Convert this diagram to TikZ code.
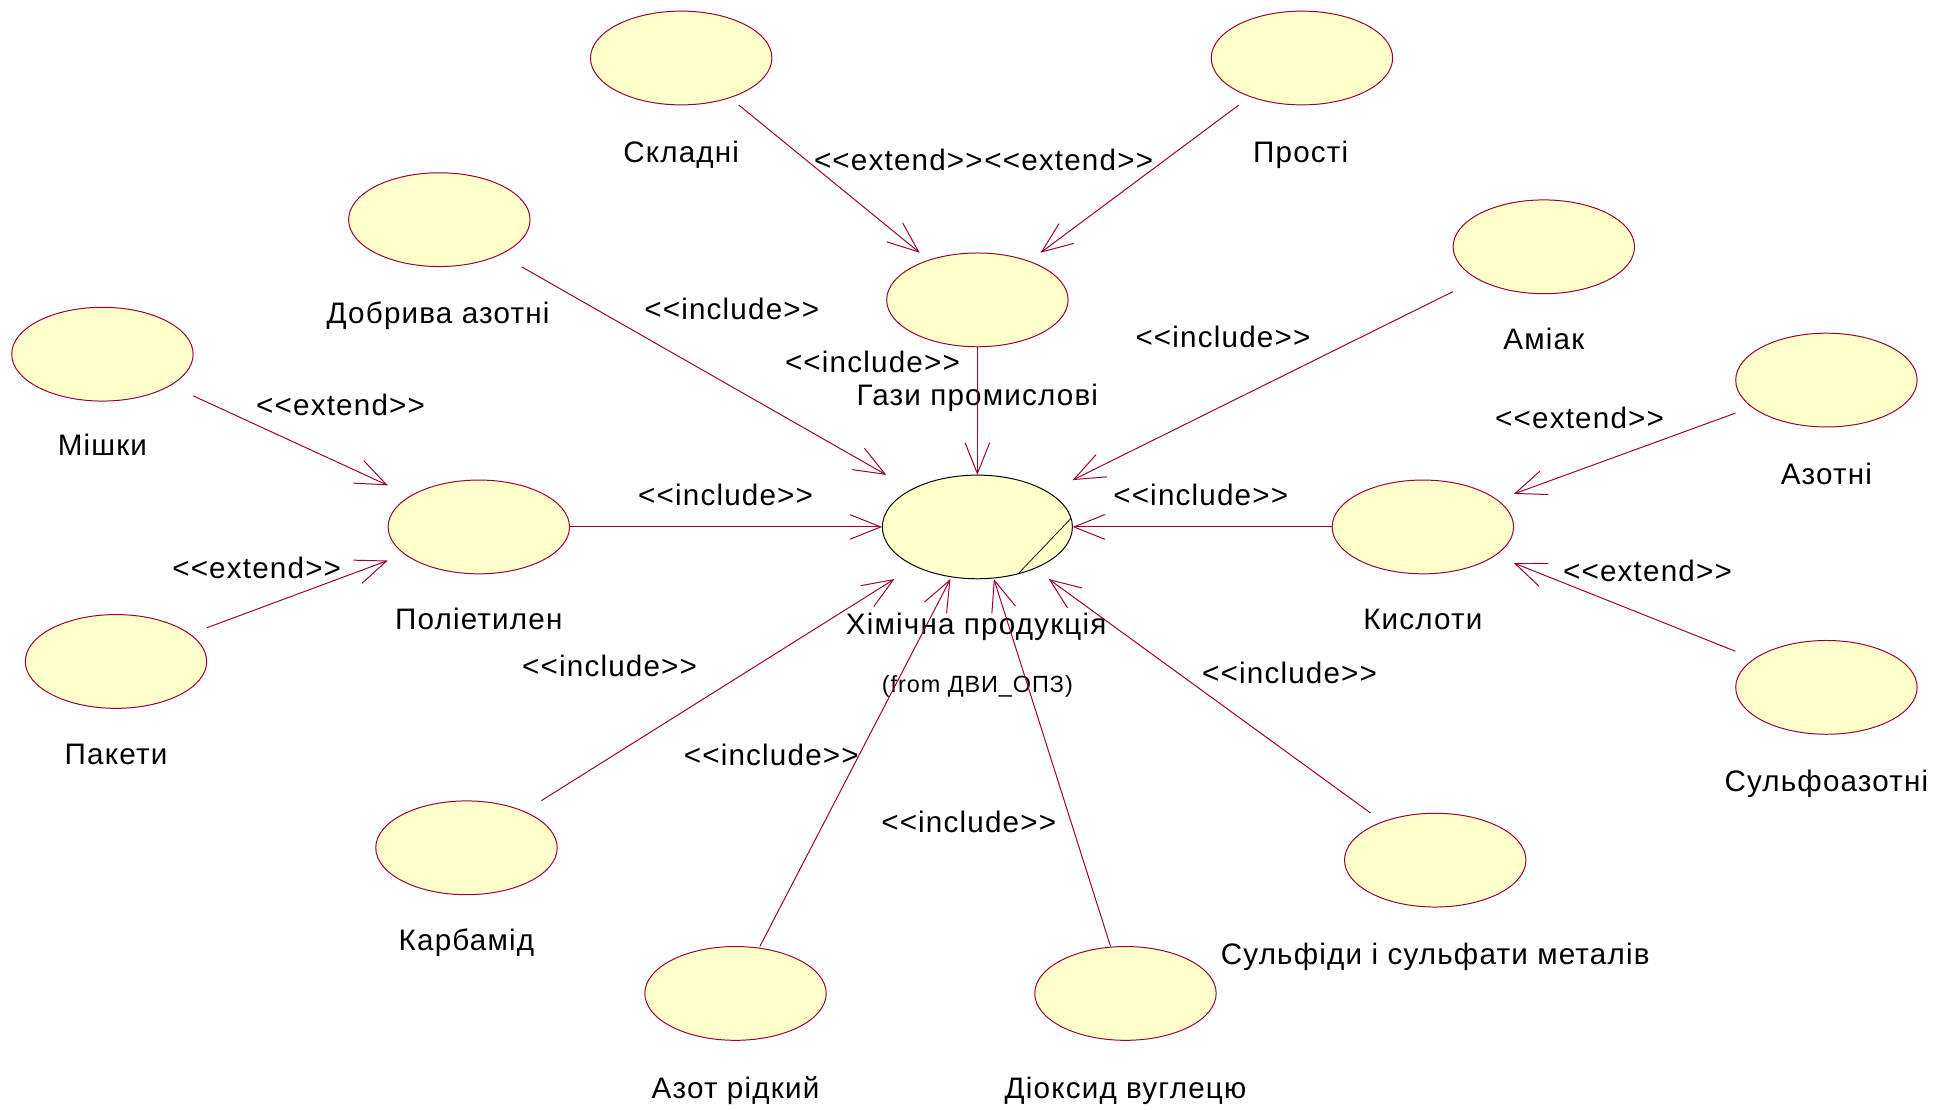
\documentclass[tikz,border=0pt]{standalone}
\usepackage{fontspec}
\newfontfamily\lblfont[LetterSpace=4,Ligatures=TeXOff]{Liberation Sans}
\usetikzlibrary{arrows.meta}

\definecolor{ucline}{HTML}{990033}
\definecolor{ucfill}{HTML}{FFFFCC}

\tikzset{
  uc/.style={rectangle, inner sep=0pt, minimum width=147pt, minimum height=76pt},
  ucmain/.style={rectangle, inner sep=0pt, minimum width=154pt, minimum height=84pt},
  lbl/.style={inner sep=0pt, text height=17pt, text depth=0pt,
              font=\lblfont\fontsize{24pt}{28pt}\selectfont},
  small/.style={inner sep=0pt, text height=13.5pt, text depth=0pt,
              font=\lblfont\fontsize{19pt}{22pt}\selectfont},
  rel/.style={draw=ucline, line width=0.8pt,
              -{Straight Barb[length=25pt,width=20pt]}},
  ucshape/.style={draw=ucline, fill=ucfill, line width=0.8pt},
}

\begin{document}
\begin{tikzpicture}[x=1pt, y=-1pt]
\useasboundingbox (0,0) rectangle (1568,899);

% use case placeholders (connectors clip to these boxes)
\node[uc] (skl) at (552,47) {};
\node[uc] (pro) at (1055,47) {};
\node[uc] (gas) at (792,243) {};
\node[uc] (dob) at (356,178) {};
\node[uc] (ami) at (1251,200) {};
\node[uc] (mis) at (83,287) {};
\node[uc] (pol) at (388,427) {};
\node[uc] (pak) at (94,536) {};
\node[ucmain] (chem) at (792,427) {};
\node[uc] (kis) at (1153,427) {};
\node[uc] (azn) at (1480,308) {};
\node[uc] (sul) at (1480,557) {};
\node[uc] (kar) at (378,687) {};
\node[uc] (sfm) at (1163,697) {};
\node[uc] (azr) at (596,805) {};
\node[uc] (dio) at (912,805) {};

% use case ellipses
\foreach \n in {skl,pro,gas,dob,ami,mis,pol,pak,kis,azn,sul,kar,sfm,azr,dio}
  \draw[ucshape] (\n.center) ellipse [x radius=73.5pt, y radius=38pt];
\draw[black, fill=ucfill, line width=0.8pt] (chem.center) ellipse [x radius=77pt, y radius=42pt];
\draw[black, line width=0.6pt] ([shift={(75.9,-7)}]chem.center) -- ([shift={(33,38)}]chem.center);

% use case names
\node[lbl] (tskl) at (552,123) {Складні};
\node[lbl] (tpro) at (1054,123) {Прості};
\node[lbl] (tgas) at (792,320) {Гази промислові};
\node[lbl] (tdob) at (355,254) {Добрива азотні};
\node[lbl] (tami) at (1251,275) {Аміак};
\node[lbl] (tmis) at (83,361) {Мішки};
\node[lbl] (tpol) at (388,502) {Поліетилен};
\node[lbl] (tpak) at (94,611) {Пакети};
\node[lbl] (tchem) at (791,506) {Хімічна продукція};
\node[small] (tfrom) at (792,554) {(from ДВИ\_ОПЗ)};
\node[lbl] (tkis) at (1153,502) {Кислоти};
\node[lbl] (tazn) at (1480,384) {Азотні};
\node[lbl] (tsul) at (1480,633) {Сульфоазотні};
\node[lbl] (tkar) at (378,762) {Карбамід};
\node[lbl] (tsfm) at (1163,773) {Сульфіди і сульфати металів};
\node[lbl] (tazr) at (596,882) {Азот рідкий};
\node[lbl] (tdio) at (912,882) {Діоксид вуглецю};

% relationships
\draw[rel] (skl) -- (gas);
\draw[rel] (pro) -- (gas);
\draw[rel] (gas) -- (chem);
\draw[rel] (dob) -- (chem);
\draw[rel] (ami) -- (chem);
\draw[rel] (mis) -- (pol);
\draw[rel] (pak) -- (pol);
\draw[rel] (pol) -- (chem);
\draw[rel] (kis) -- (chem);
\draw[rel] (azn) -- (kis);
\draw[rel] (sul) -- (kis);
\draw[rel] (kar) -- (chem);
\draw[rel] (azr) -- (chem);
\draw[rel] (dio) -- (chem);
\draw[rel] (sfm) -- (chem);

% stereotypes
\node[lbl] (e1) at (728,130) {<<extend>>};
\node[lbl] (e2) at (866,130) {<<extend>>};
\node[lbl] (i1) at (707,293) {<<include>>};
\node[lbl] (i2) at (593,250) {<<include>>};
\node[lbl] (i3) at (991,273) {<<include>>};
\node[lbl] (e3) at (276,328) {<<extend>>};
\node[lbl] (e4) at (208,460) {<<extend>>};
\node[lbl] (i4) at (588,401) {<<include>>};
\node[lbl] (i5) at (973,401) {<<include>>};
\node[lbl] (e5) at (1280,339) {<<extend>>};
\node[lbl] (e6) at (1335,463) {<<extend>>};
\node[lbl] (i6) at (494,540) {<<include>>};
\node[lbl] (i7) at (625,612) {<<include>>};
\node[lbl] (i8) at (785,666) {<<include>>};
\node[lbl] (i9) at (1045,545) {<<include>>};
\end{tikzpicture}
\end{document}
